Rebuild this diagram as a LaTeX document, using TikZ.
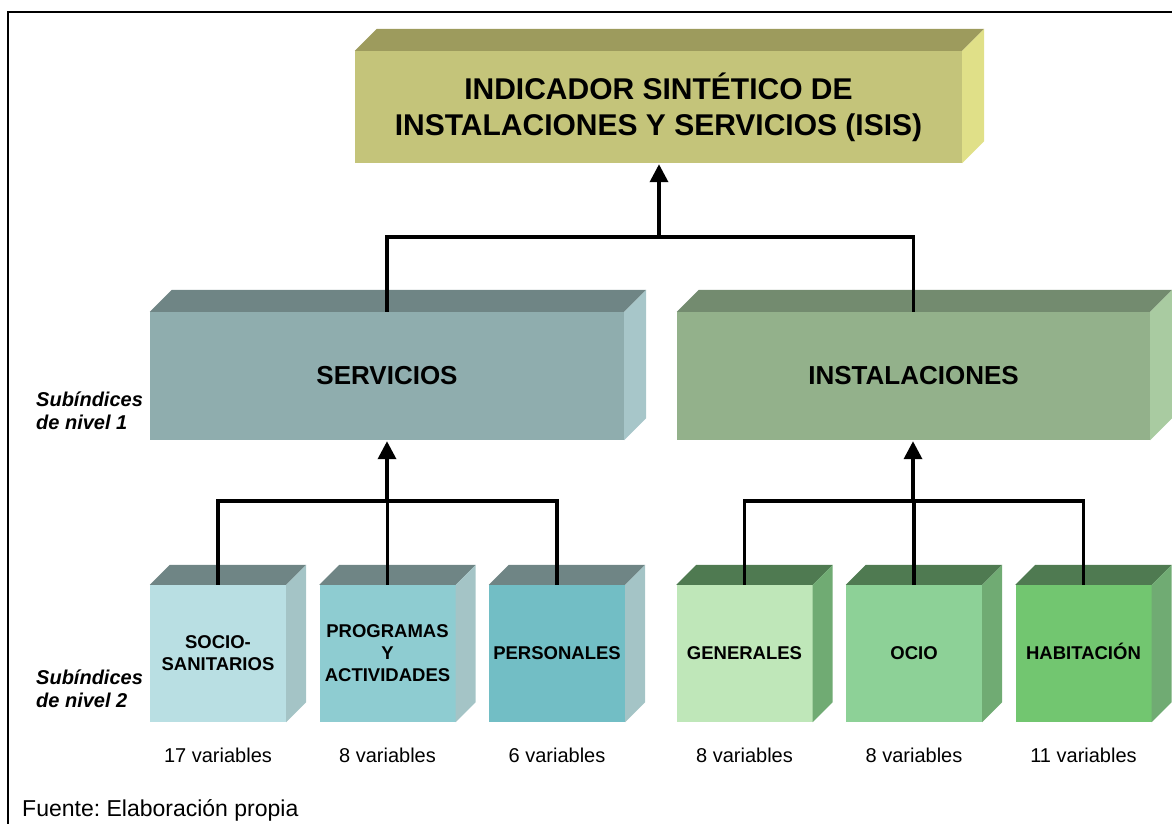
\documentclass[tikz,border=0pt]{standalone}
\usepackage{fontspec}
\setmainfont{Liberation Sans}
\usetikzlibrary{arrows.meta,calc,positioning}
\frenchspacing

\definecolor{isisfrente}{HTML}{C4C47A}
\definecolor{isisarriba}{HTML}{9D9B5D}
\definecolor{isislado}{HTML}{E0E088}
\definecolor{servfrente}{HTML}{8FADAE}
\definecolor{servarriba}{HTML}{6F8585}
\definecolor{servlado}{HTML}{A7C6C9}
\definecolor{instfrente}{HTML}{93B18B}
\definecolor{instarriba}{HTML}{738B6F}
\definecolor{instlado}{HTML}{A9CBA1}
\definecolor{bservlado}{HTML}{A4C4C6}
\definecolor{binstarriba}{HTML}{4F7A51}
\definecolor{binstlado}{HTML}{70AB73}
\definecolor{socio}{HTML}{B9DFE3}
\definecolor{prog}{HTML}{8ECCD1}
\definecolor{pers}{HTML}{72BEC5}
\definecolor{gen}{HTML}{BFE7B9}
\definecolor{ocio}{HTML}{8DD197}
\definecolor{hab}{HTML}{72C670}

\tikzset{
    caja/.style={rectangle, inner sep=0pt, align=center},
    grande/.style={caja, minimum width=474, minimum height=128,
        font=\fontsize{26}{31}\selectfont\bfseries},
    cubo/.style={caja, minimum width=136, minimum height=137,
        font=\fontsize{18.5}{22}\selectfont\bfseries},
    linea/.style={line width=3.5pt},
    flecha/.style={linea, -{Triangle[length=18pt,width=18pt]}, shorten >=1pt},
    nivel/.style={anchor=west, align=left, inner sep=0pt,
        font=\fontsize{20}{23}\selectfont\bfseries\itshape},
    var/.style={inner sep=0pt, font=\fontsize{20}{24}\selectfont},
    marco/.style={line width=1.5pt}
}

\newcommand{\caras}[4]{%
    \fill[#3] (#1.north west) -- ++(#2,-#2) -- ($(#1.north east)+(#2,-#2)$) -- (#1.north east) -- cycle;
    \fill[#4] (#1.north east) -- ++(#2,-#2) -- ($(#1.south east)+(#2,-#2)$) -- (#1.south east) -- cycle;
}

\begin{document}
\begin{tikzpicture}[x=1pt, y=-1pt]
    \clip (0,0) rectangle (1172,824);
    \draw[marco] (8,12) rectangle (1200,860);

    \node[caja, fill=isisfrente, minimum width=607, minimum height=112,
        font=\fontsize{30}{36}\selectfont\bfseries] (isis) at (658.5,107)
        {INDICADOR SINTÉTICO DE\\INSTALACIONES Y SERVICIOS (ISIS)};
    \caras{isis}{22}{isisarriba}{isislado}

    \node[grande, fill=servfrente] (serv) at (387,376) {SERVICIOS};
    \caras{serv}{22}{servarriba}{servlado}
    \node[grande, fill=instfrente, minimum width=473] (inst) at (913.5,376) {INSTALACIONES};
    \caras{inst}{22}{instarriba}{instlado}

    \foreach \n/\x/\col/\txt in {b1/218/socio/{SOCIO-\\SANITARIOS},
                                 b2/387.5/prog/{PROGRAMAS\\Y\\ACTIVIDADES},
                                 b3/557/pers/{PERSONALES}} {
        \node[cubo, fill=\col] (\n) at (\x,653.5) {\txt};
        \caras{\n}{20}{servarriba}{bservlado}
    }
    \foreach \n/\x/\col/\txt in {b4/744.5/gen/{GENERALES},
                                 b5/914/ocio/{OCIO},
                                 b6/1083.5/hab/{\raisebox{0pt}[\height][\depth]{HABITACI\smash{Ó}N}}} {
        \node[cubo, fill=\col] (\n) at (\x,653.5) {\txt};
        \caras{\n}{20}{binstarriba}{binstlado}
    }

    \foreach \n/\cant in {b1/17, b2/8, b3/6, b4/8, b5/8, b6/11}
        \node[var] (v\n) at ($(\n.south)+(0,33)$) {\cant{} variables};

    \node[nivel] (n1) at (36,410.5) {Subíndices\\de nivel 1};
    \node[nivel] (n2) at (36,689) {Subíndices\\de nivel 2};
    \node[anchor=west, inner sep=0pt, font=\fontsize{23}{27}\selectfont] (fuente) at (22,810)
        {Fuente: Elaboración propia};

    \coordinate (j0) at (659,237);
    \coordinate (j1) at (387,501);
    \coordinate (j2) at (913,501);

    \draw[flecha] (j0) -- (isis.south -| j0);
    \draw[linea] (serv.north) |- (j0) -| (inst.north);
    \draw[flecha] (j1) -- (serv.south -| j1);
    \draw[linea] (b1.north) |- (j1) -| (b3.north)
                 (b2.north) -- (b2.north |- j1);
    \draw[flecha] (j2) -- (inst.south -| j2);
    \draw[linea] (b4.north) |- (j2) -| (b6.north)
                 (b5.north) -- (b5.north |- j2);
\end{tikzpicture}
\end{document}
